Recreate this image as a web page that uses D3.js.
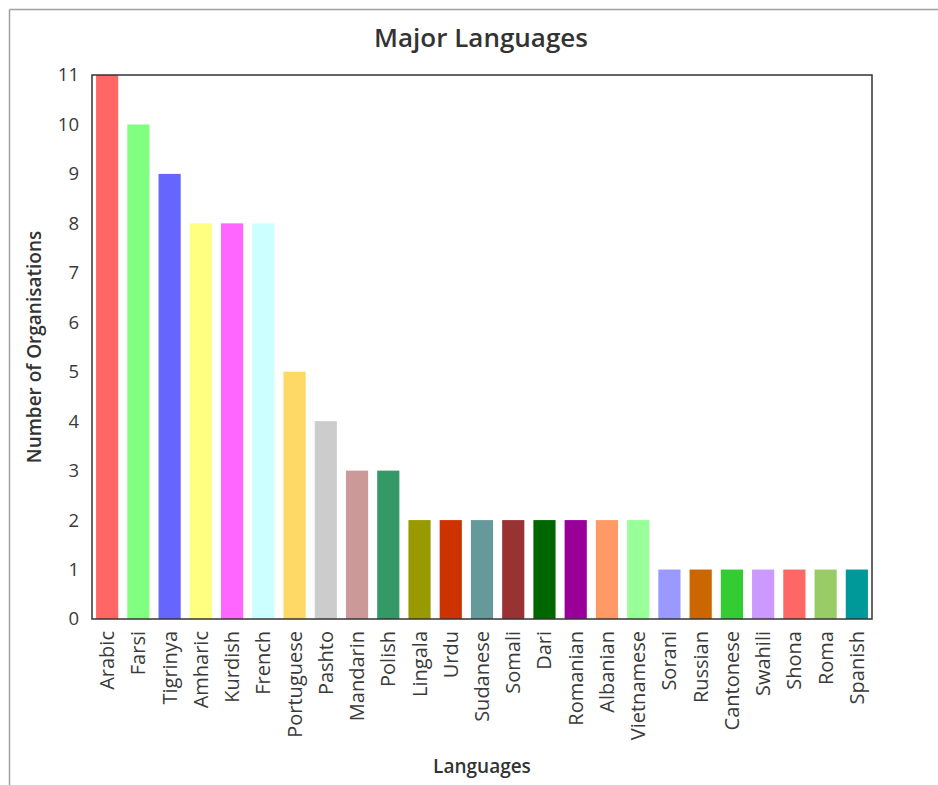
<!DOCTYPE html>
<html>
<head>
<meta charset="utf-8">
<script src="https://cdn.jsdelivr.net/npm/d3@7"></script>
<style>
html,body{margin:0;padding:0;background:#fff;}
svg{display:block;font-family:"Open Sans",sans-serif;}
</style>
</head>
<body>
<svg id="chart" width="938" height="785"></svg>
<script>
const languages = ["Arabic","Farsi","Tigrinya","Amharic","Kurdish","French","Portuguese","Pashto","Mandarin","Polish","Lingala","Urdu","Sudanese","Somali","Dari","Romanian","Albanian","Vietnamese","Sorani","Russian","Cantonese","Swahili","Shona","Roma","Spanish"];
const organisations = [11,10,9,8,8,8,5,4,3,3,2,2,2,2,2,2,2,2,1,1,1,1,1,1,1];
const barColors = ["#ff6666","#80ff80","#6666ff","#ffff80","#ff66ff","#ccffff","#ffd966","#cccccc","#cc9999","#339966","#999900","#cc3300","#669999","#993333","#006600","#990099","#ff9966","#99ff99","#9999ff","#cc6600","#33cc33","#cc99ff","#ff6666","#99cc66","#009999"];
const yTicks = [0,1,2,3,4,5,6,7,8,9,10,11];
const chartTitle = "Major Languages";
const xTitle = "Languages";
const yTitle = "Number of Organisations";

(function(){
const svg = d3.select("#chart");
const pL = 92, pR = 872, pT = 75, pB = 619;

// page border (left and top)
svg.append("line").attr("x1",9.5).attr("x2",938).attr("y1",9.5).attr("y2",9.5).attr("stroke","#a0a0a0").attr("stroke-width",1.5);
svg.append("line").attr("x1",9.5).attr("x2",9.5).attr("y1",9.5).attr("y2",785).attr("stroke","#a0a0a0").attr("stroke-width",1.5);

const x = d3.scaleBand().domain(languages).range([pL,pR]).paddingInner(0.29).paddingOuter(0.13);
const y = d3.scaleLinear().domain([0,11]).range([pB,pT]);

svg.append("g").selectAll("rect").data(languages).join("rect")
  .attr("x", d => x(d))
  .attr("width", x.bandwidth())
  .attr("y", (d,i) => y(organisations[i]))
  .attr("height", (d,i) => y(0) - y(organisations[i]))
  .attr("fill", (d,i) => barColors[i]);

// plot frame
svg.append("rect").attr("x",pL).attr("y",pT).attr("width",pR-pL).attr("height",pB-pT)
  .attr("fill","none").attr("stroke","#333").attr("stroke-width",1.5);

// y axis
const yAxis = svg.append("g").attr("transform",`translate(${pL},0)`)
  .call(d3.axisLeft(y).tickValues(yTicks).tickSize(0).tickPadding(13).tickFormat(d3.format("d")));
yAxis.select(".domain").remove();
yAxis.selectAll("text").attr("font-size",18.5).attr("fill","#3a3a3a").attr("font-family","Open Sans, sans-serif");

// x axis
const xAxis = svg.append("g").attr("transform",`translate(0,${pB})`)
  .call(d3.axisBottom(x).tickSize(0));
xAxis.select(".domain").remove();
xAxis.selectAll("text")
  .attr("font-size",20).attr("fill","#3a3a3a").attr("font-family","Open Sans, sans-serif")
  .attr("text-anchor","end").attr("transform","rotate(-90)")
  .attr("x",-12).attr("y",0).attr("dy","0.35em");

svg.append("text").attr("x",481).attr("y",47).attr("text-anchor","middle")
  .attr("font-size",26).attr("font-weight",600).attr("fill","#333").text(chartTitle);
svg.append("text").attr("x",482).attr("y",773).attr("text-anchor","middle")
  .attr("font-size",19).attr("font-weight",600).attr("fill","#333").text(xTitle);
svg.append("text").attr("transform","translate(41,347) rotate(-90)").attr("text-anchor","middle")
  .attr("font-size",19).attr("font-weight",600).attr("fill","#333").text(yTitle);
})();
</script>
</body>
</html>
